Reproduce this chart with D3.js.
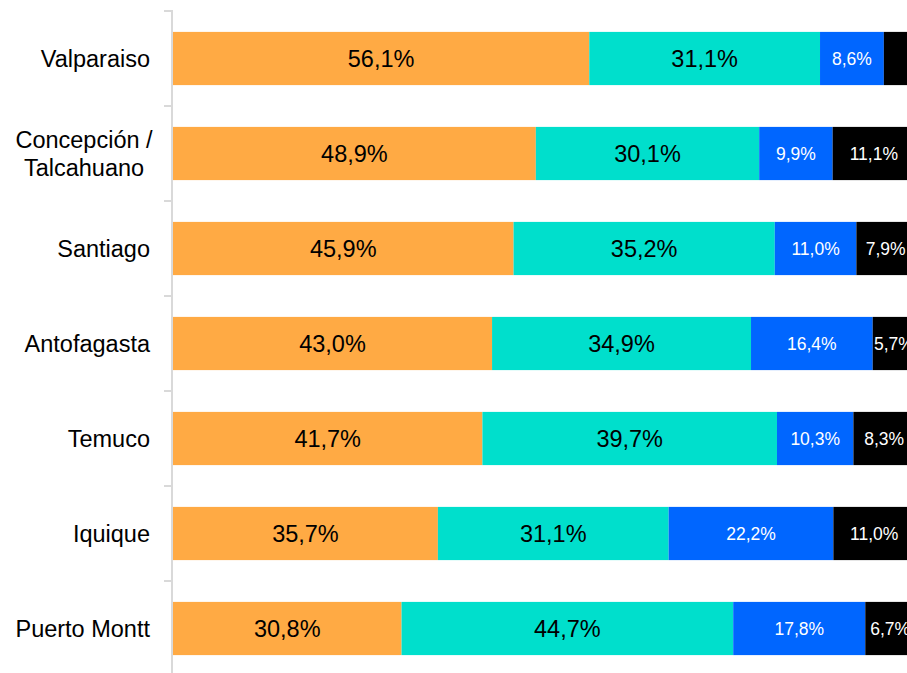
<!DOCTYPE html>
<html><head><meta charset="utf-8">
<script src="https://cdn.jsdelivr.net/npm/d3@7"></script>
<style>body{margin:0;background:#fff}svg{display:block}</style>
</head><body>
<svg id="c" width="907" height="673"></svg>
<script>
const categories = ["Valparaiso", "Concepción / Talcahuano", "Santiago", "Antofagasta", "Temuco", "Iquique", "Puerto Montt"];
const seriesNames = ["s1", "s2", "s3", "s4"];
const s1 = [56.1, 48.9, 45.9, 43.0, 41.7, 35.7, 30.8];
const s2 = [31.1, 30.1, 35.2, 34.9, 39.7, 31.1, 44.7];
const s3 = [8.6, 9.9, 11.0, 16.4, 10.3, 22.2, 17.8];
const s4 = [4.2, 11.1, 7.9, 5.7, 8.3, 11.0, 6.7];
const colors = ["#FFAA44", "#00DFCC", "#0066FF", "#000000"];

const rows = categories.map((c, i) => ({cat: c, s1: s1[i], s2: s2[i], s3: s3[i], s4: s4[i]}));
const stack = d3.stack().keys(seriesNames)(rows);

const svg = d3.select("#c");
const x = d3.scaleLinear().domain([0, 100]).range([173, 915]);
const y = d3.scaleBand().domain(categories).range([11, 676]).paddingInner(0.44).paddingOuter(0.22);

const fmt = v => v.toFixed(1).replace(".", ",") + "%";
const FONT = "Liberation Sans, Arial, sans-serif";

stack.forEach((layer, li) => {
  const g = svg.append("g");
  g.selectAll("rect").data(layer).join("rect")
    .attr("x", d => x(d[0]))
    .attr("y", d => y(d.data.cat))
    .attr("width", d => x(d[1]) - x(d[0]))
    .attr("height", y.bandwidth())
    .attr("fill", colors[li]);
  g.selectAll("text").data(layer.filter(d => d[1] - d[0] >= 5)).join("text")
    .attr("x", d => (x(d[0]) + x(d[1])) / 2)
    .attr("y", d => y(d.data.cat) + y.bandwidth() / 2)
    .attr("dy", "0.35em")
    .attr("text-anchor", "middle")
    .attr("font-family", FONT)
    .attr("font-size", li < 2 ? 23.5 : 17.5)
    .attr("fill", li < 2 ? "#000" : "#fff")
    .text(d => fmt(d[1] - d[0]));
});

// axis
const axis = svg.append("g");
axis.append("line").attr("x1", 172).attr("x2", 172).attr("y1", 10).attr("y2", 675)
  .attr("stroke", "#d9d9d9").attr("stroke-width", 2);
const bounds = d3.range(categories.length + 1).map(i => 10 + i * (665 / categories.length));
axis.selectAll("line.t").data(bounds).join("line").attr("class", "t")
  .attr("x1", 164).attr("x2", 172).attr("y1", d => d + 1).attr("y2", d => d + 1)
  .attr("stroke", "#d9d9d9").attr("stroke-width", 2);

// category labels
categories.forEach(c => {
  const cy = y(c) + y.bandwidth() / 2;
  const parts = c === "Concepción / Talcahuano" ? ["Concepción /", "Talcahuano"] : [c];
  const multi = parts.length > 1;
  const t = svg.append("text")
    .attr("font-family", FONT)
    .attr("font-size", 23.5).attr("fill", "#000");
  parts.forEach((p, k) => {
    t.append("tspan")
      .attr("x", multi ? 84 : 150)
      .attr("text-anchor", multi ? "middle" : "end")
      .attr("y", cy + (k - (parts.length - 1) / 2) * 28)
      .attr("dy", "0.35em").text(p);
  });
});
</script>
</body></html>
